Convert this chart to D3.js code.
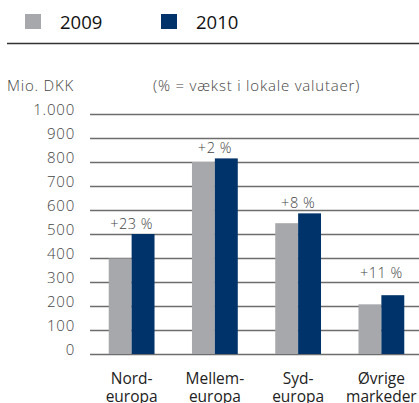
<!DOCTYPE html>
<html>
<head>
<meta charset="utf-8">
<script src="https://cdn.jsdelivr.net/npm/d3@7"></script>
<style>
  body { margin: 0; background: #fff; }
  svg { display: block; }
</style>
</head>
<body>
<div id="chart"></div>
<script>
// data
const regions = ["Nord-\neuropa", "Mellem-\neuropa", "Syd-\neuropa", "Øvrige\nmarkeder"];
const years = ["2009", "2010"];
const values2009 = [398, 800, 545, 207];
const values2010 = [500, 815, 586, 245];
const growth = ["+23 %", "+2 %", "+8 %", "+11 %"];
const yTicks = [0, 100, 200, 300, 400, 500, 600, 700, 800, 900, 1000];

const colors = ["#a7a8ab", "#00336a"];

const width = 419;
const height = 403;
const margin = { top: 114, right: 0, bottom: 49, left: 90 };

const thinFont = "'Open Sans'";

const svg = d3.select("#chart")
  .append("svg")
  .attr("width", width)
  .attr("height", height);

const y = d3.scaleLinear()
  .domain([0, 1000])
  .range([height - margin.bottom, margin.top]);

const x = d3.scaleBand()
  .domain(regions)
  .range([margin.left, 423])
  .paddingInner(0.45)
  .paddingOuter(0.225);

const xs = d3.scaleBand()
  .domain(years)
  .range([0, x.bandwidth()]);

// legend
const legend = svg.append("g");
years.forEach((yr, i) => {
  const lx = [25, 161][i];
  legend.append("rect")
    .attr("x", lx).attr("y", 14)
    .attr("width", 16).attr("height", 15)
    .attr("fill", colors[i]);
  legend.append("text")
    .attr("x", lx + 35).attr("y", 28.5)
    .attr("font-family", thinFont)
    .attr("font-size", 18.5)
    .attr("fill", "#111")
    .text(yr);
});

svg.append("line")
  .attr("x1", 7).attr("x2", width)
  .attr("y1", 43.5).attr("y2", 43.5)
  .attr("stroke", "#333")
  .attr("stroke-width", 1.5);

// titles
svg.append("text")
  .attr("x", 7).attr("y", 91)
  .attr("font-family", thinFont)
  .attr("font-weight", 300)
  .attr("font-size", 15)
  .attr("letter-spacing", 0.8)
  .attr("fill", "#444")
  .text("Mio. DKK");

svg.append("text")
  .attr("x", 153).attr("y", 91)
  .attr("font-family", thinFont)
  .attr("font-weight", 300)
  .attr("font-size", 15)
  .attr("letter-spacing", 0.8)
  .attr("fill", "#444")
  .text("(% = vækst i lokale valutaer)");

// grid + y axis
const yAxis = g => g
  .attr("transform", `translate(${margin.left}, 0)`)
  .call(d3.axisLeft(y).tickValues(yTicks)
    .tickSize(-(width - margin.left))
    .tickFormat(d => d3.format(",")(d).replace(",", ".")))
  .call(g => g.select(".domain").remove())
  .call(g => g.selectAll(".tick line")
    .attr("stroke", "#6d6d6d")
    .attr("stroke-width", 1.5))
  .call(g => g.selectAll(".tick text")
    .attr("x", -15)
    .attr("dy", 0)
    .attr("font-family", thinFont)
    .attr("font-weight", 300)
    .attr("font-size", 15)
    .attr("letter-spacing", 0.8)
    .attr("fill", "#444"));
svg.append("g").call(yAxis);

// bars
const series = [values2009, values2010];
const groups = svg.append("g")
  .selectAll("g")
  .data(regions)
  .join("g")
  .attr("transform", d => `translate(${x(d)}, 0)`);

groups.selectAll("rect")
  .data((d, i) => years.map((yr, j) => ({ yr, v: series[j][i], c: colors[j] })))
  .join("rect")
  .attr("x", d => xs(d.yr))
  .attr("y", d => y(d.v))
  .attr("width", xs.bandwidth())
  .attr("height", d => y(0) - y(d.v))
  .attr("fill", d => d.c);

// growth labels, lifted above a grid line if they would overlap it
const fontSize = 14.5;
groups.append("text")
  .attr("x", x.bandwidth() / 2)
  .attr("y", (d, i) => {
    let base = y(Math.max(values2009[i], values2010[i])) - 5;
    const top = base - fontSize * 0.72;
    yTicks.forEach(t => {
      const gy = y(t);
      if (gy > top && gy < base) base = gy - 4;
    });
    return base;
  })
  .attr("text-anchor", "middle")
  .attr("font-family", thinFont)
  .attr("font-weight", 300)
  .attr("font-size", fontSize)
  .attr("letter-spacing", 0.5)
  .attr("fill", "#444")
  .text((d, i) => growth[i]);

// category labels
groups.append("text")
  .attr("text-anchor", "middle")
  .attr("font-family", thinFont)
  .attr("font-size", 15.5)
  .attr("fill", "#222")
  .selectAll("tspan")
  .data(d => d.split("\n"))
  .join("tspan")
  .attr("x", x.bandwidth() / 2)
  .attr("y", (d, i) => 383.5 + i * 18)
  .text(d => d);
</script>
</body>
</html>
